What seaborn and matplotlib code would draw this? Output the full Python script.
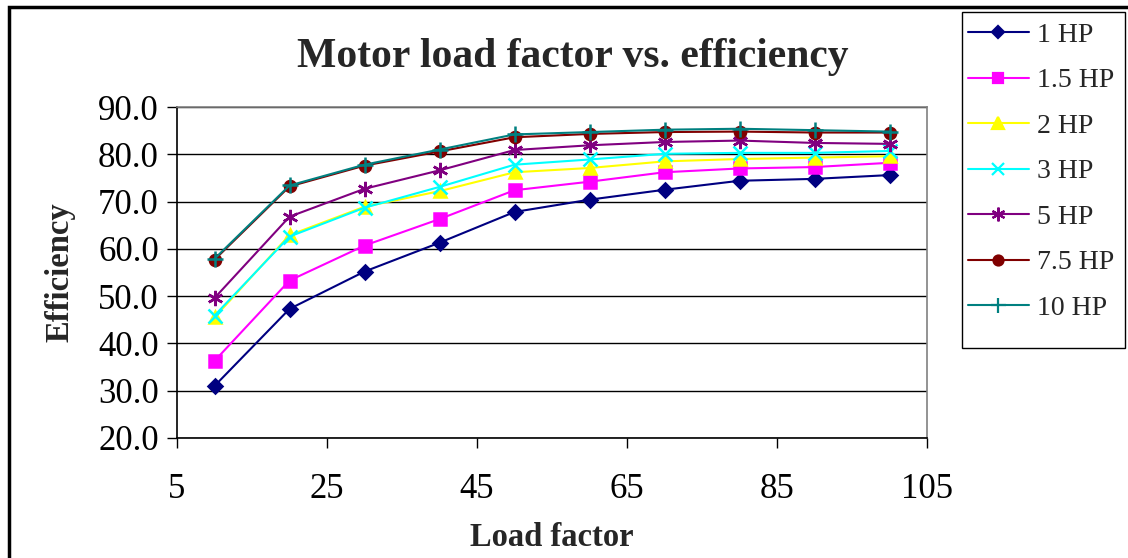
import numpy as np
import pandas as pd
import matplotlib
matplotlib.use("Agg")
import matplotlib.pyplot as plt
import seaborn as sns
from matplotlib.patches import Rectangle
from matplotlib.lines import Line2D

load_factor = [10, 20, 30, 40, 50, 60, 70, 80, 90, 100]
series_names = ["1 HP", "1.5 HP", "2 HP", "3 HP", "5 HP", "7.5 HP", "10 HP"]
eff_1hp = [31.0, 47.3, 55.2, 61.3, 67.8, 70.4, 72.5, 74.4, 74.8, 75.6]
eff_1_5hp = [36.3, 53.3, 60.7, 66.3, 72.4, 74.2, 76.2, 77.0, 77.3, 78.2]
eff_2hp = [45.5, 62.9, 68.9, 72.2, 76.2, 77.1, 78.5, 79.0, 79.3, 79.6]
eff_3hp = [45.9, 62.6, 68.7, 73.1, 77.8, 78.9, 80.1, 80.3, 80.3, 80.7]
eff_5hp = [49.6, 66.8, 72.7, 76.6, 80.9, 81.9, 82.6, 82.9, 82.4, 82.2]
eff_7_5hp = [57.7, 73.2, 77.6, 80.6, 83.6, 84.3, 84.7, 84.8, 84.6, 84.6]
eff_10hp = [57.9, 73.4, 77.8, 81.0, 84.2, 84.7, 85.2, 85.4, 85.1, 84.8]
y_ticks = [20.0, 30.0, 40.0, 50.0, 60.0, 70.0, 80.0, 90.0]
x_ticks = [5, 25, 45, 65, 85, 105]

all_series = [eff_1hp, eff_1_5hp, eff_2hp, eff_3hp, eff_5hp, eff_7_5hp, eff_10hp]
df = pd.DataFrame({
    "Load factor": np.tile(load_factor, len(series_names)),
    "Efficiency": np.concatenate(all_series),
    "Motor": np.repeat(series_names, len(load_factor)),
})

colors = ["#000080", "#FF00FF", "#FFFF00", "#00FFFF", "#800080", "#800000", "#008080"]
markers = ["D", "s", "^", "x", (6, 2, 0), "o", "+"]
sizes = [7, 8, 9, 10, 11, 8, 12]

sns.set_theme(style="white")
plt.rcParams["font.family"] = ["Liberation Serif", "DejaVu Serif"]

fig = plt.figure(figsize=(11.28, 5.58), dpi=100)
ax = fig.add_axes([177/1128, 1-438/558, (927-177)/1128, (438-107)/558])

for name, c, m, s in zip(series_names, colors, markers, sizes):
    sub = df[df["Motor"] == name]
    sns.lineplot(data=sub, x="Load factor", y="Efficiency", color=c, marker=m,
                 markersize=s, markerfacecolor=c, markeredgecolor=c,
                 markeredgewidth=1.8, linewidth=1.5, ax=ax, legend=False)

ax.set_xlim(5, 105)
ax.set_ylim(20, 90)
ax.set_xticks(x_ticks)
ax.set_yticks(y_ticks)
ax.set_yticklabels([f"{v:.1f}" for v in y_ticks])
ax.tick_params(axis="both", labelsize=25, colors="black", length=7, width=1,
               direction="out", bottom=True, left=True)
ax.tick_params(axis="x", pad=18)
ax.tick_params(axis="y", pad=6)
ax.grid(axis="y", color="black", linewidth=1)
ax.grid(axis="x", visible=False)
for s in ["left", "bottom"]:
    ax.spines[s].set_color("black")
    ax.spines[s].set_linewidth(1.2)
for s in ["top", "right"]:
    ax.spines[s].set_color("#808080")
    ax.spines[s].set_linewidth(1.2)

ax.set_xlabel("Load factor", fontsize=23.5, fontweight="bold", labelpad=12)
ax.set_ylabel("Efficiency", fontsize=23.5, fontweight="bold", labelpad=16)
fig.text(573/1128, 1-57/558, "Motor load factor vs. efficiency", fontsize=30,
         fontweight="bold", ha="center", va="center")

handles = [Line2D([], [], color=c, marker=m, markersize=s*0.9, markerfacecolor=c,
                  markeredgecolor=c, markeredgewidth=1.6, linewidth=1.5)
           for c, m, s in zip(colors, markers, sizes)]
leg = fig.legend(handles, series_names, loc="upper left",
                 bbox_to_anchor=(962/1128, 1-17/558), fontsize=20,
                 frameon=False, handlelength=2.2,
                 labelspacing=0.72, borderpad=0.2, handletextpad=0.3,
                 borderaxespad=0)

fig.patches.append(Rectangle((962/1128, 1-348/558), (1125-962)/1128, (348-12)/558,
                             transform=fig.transFigure, fill=False,
                             edgecolor="black", linewidth=1))
fig.patches.append(Rectangle((9/1128, -0.05), 1.2, 1-7/558+0.05,
                             transform=fig.transFigure, fill=False,
                             edgecolor="black", linewidth=2.5))

fig.savefig("out.png", dpi=100)
